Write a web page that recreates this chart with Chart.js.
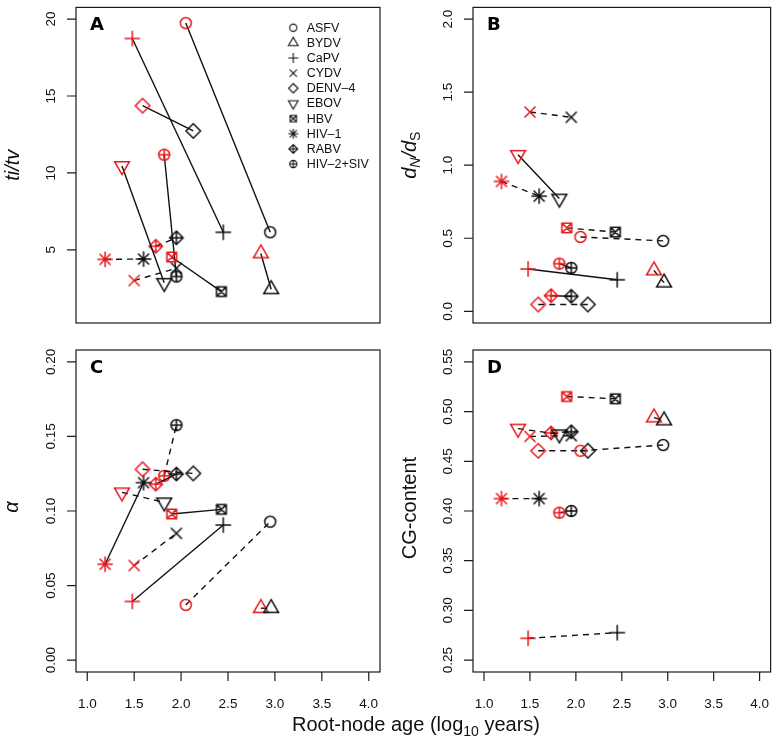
<!DOCTYPE html>
<html><head><meta charset="utf-8">
<script src="https://cdn.jsdelivr.net/npm/chart.js@4.4.1/dist/chart.umd.min.js"></script>
<style>
html,body{margin:0;padding:0;background:#fff;width:778px;height:743px;overflow:hidden}
canvas{position:absolute;left:0;top:0}
</style>
</head><body>
<canvas id="cA" width="778" height="743"></canvas>
<canvas id="cB" width="778" height="743"></canvas>
<canvas id="cC" width="778" height="743"></canvas>
<canvas id="cD" width="778" height="743"></canvas>
<script>
// ---------------- data ----------------
const VIRUSES = ['ASFV','BYDV','CaPV','CYDV','DENV–4','EBOV','HBV','HIV–1','RABV','HIV–2+SIV'];
// root-node age (log10 years): red = first estimate, black = second estimate
const AGE_RED   = [2.05, 2.85, 1.48, 1.50, 1.59, 1.37, 1.90, 1.19, 1.73, 1.82];
const AGE_BLACK = [2.95, 2.96, 2.45, 1.95, 2.13, 1.82, 2.43, 1.60, 1.95, 1.95];
// A: ti/tv
const TITV_RED   = [19.74, 4.76, 18.74, 3.00, 14.37, 10.45, 4.53, 4.38, 5.23, 11.18];
const TITV_BLACK = [6.14, 2.43, 6.14, 3.80, 12.73, 2.85, 2.28, 4.40, 5.78, 3.26];
const TITV_SIG   = [1, 1, 1, 0, 1, 1, 1, 0, 0, 1];
// B: dN/dS
const DNDS_RED   = [0.509, 0.279, 0.290, 1.364, 0.047, 1.071, 0.571, 0.889, 0.107, 0.326];
const DNDS_BLACK = [0.482, 0.196, 0.216, 1.328, 0.047, 0.772, 0.542, 0.788, 0.103, 0.297];
const DNDS_SIG   = [0, 0, 1, 0, 0, 1, 0, 0, 1, 1];
// C: alpha
const ALPHA_RED   = [0.0370, 0.0348, 0.0393, 0.0634, 0.1280, 0.1125, 0.0980, 0.0643, 0.1180, 0.1236];
const ALPHA_BLACK = [0.0928, 0.0348, 0.0906, 0.0850, 0.1252, 0.1058, 0.1011, 0.1190, 0.1248, 0.1576];
const ALPHA_SIG   = [0, 0, 1, 0, 0, 0, 1, 1, 1, 0];
// D: CG-content
const CG_RED   = [0.4606, 0.4940, 0.2719, 0.4750, 0.4606, 0.4829, 0.5152, 0.4125, 0.4785, 0.3983];
const CG_BLACK = [0.4664, 0.4910, 0.2776, 0.4758, 0.4606, 0.4772, 0.5129, 0.4125, 0.4798, 0.4000];
const CG_SIG   = [0, 0, 0, 0, 0, 0, 0, 0, 0, 0];
// ticks
const X_TICKS = [1.0, 1.5, 2.0, 2.5, 3.0, 3.5, 4.0];
const A_TICKS = [5, 10, 15, 20];
const B_TICKS = [0.0, 0.5, 1.0, 1.5, 2.0];
const C_TICKS = [0.00, 0.05, 0.10, 0.15, 0.20];
const D_TICKS = [0.25, 0.30, 0.35, 0.40, 0.45, 0.50, 0.55];

// ---------------- styles ----------------
const RED = 'rgb(232,24,28)';
const BLACK = '#111';
const SHAPES = ['circle','triUp','plus','cross','diamond','triDown','boxX','star','diamondPlus','circlePlus'];
const PT_R = 5.5, LEG_R = 3.6;
const FONT = '"Liberation Sans", Arial, Helvetica, sans-serif';

function drawShape(g, shape, x, y, r) {
  const line = (x1,y1,x2,y2)=>{ g.moveTo(x1,y1); g.lineTo(x2,y2); };
  const s2 = Math.SQRT2 * r;
  g.beginPath();
  switch (shape) {
    case 'circle': g.arc(x,y,r,0,2*Math.PI); break;
    case 'triUp': g.moveTo(x, y-1.5551*r); g.lineTo(x+1.3468*r, y+0.7776*r); g.lineTo(x-1.3468*r, y+0.7776*r); g.closePath(); break;
    case 'triDown': g.moveTo(x, y+1.5551*r); g.lineTo(x+1.3468*r, y-0.7776*r); g.lineTo(x-1.3468*r, y-0.7776*r); g.closePath(); break;
    case 'plus': line(x-s2,y,x+s2,y); line(x,y-s2,x,y+s2); break;
    case 'cross': line(x-r,y-r,x+r,y+r); line(x-r,y+r,x+r,y-r); break;
    case 'diamond': { const d=1.32*r; g.moveTo(x,y-d); g.lineTo(x+d,y); g.lineTo(x,y+d); g.lineTo(x-d,y); g.closePath(); break; }
    case 'boxX': { const h=0.886*r; g.rect(x-h,y-h,2*h,2*h); line(x-h,y-h,x+h,y+h); line(x-h,y+h,x+h,y-h); break; }
    case 'star': line(x-r,y-r,x+r,y+r); line(x-r,y+r,x+r,y-r); line(x-s2,y,x+s2,y); line(x,y-s2,x,y+s2); break;
    case 'diamondPlus': { const d=1.22*r; g.moveTo(x,y-d); g.lineTo(x+d,y); g.lineTo(x,y+d); g.lineTo(x-d,y); g.closePath(); line(x-d,y,x+d,y); line(x,y-d,x,y+d); break; }
    case 'circlePlus': g.arc(x,y,r,0,2*Math.PI); line(x-r,y,x+r,y); line(x,y-r,x,y+r); break;
  }
  g.stroke();
}
const markerCache = {};
function marker(shape, color, r, lw) {
  const key = shape+color+r+lw;
  if (markerCache[key]) return markerCache[key];
  const S = 2*Math.ceil(r*2+2);
  const c = document.createElement('canvas'); c.width = S; c.height = S;
  const g = c.getContext('2d');
  g.strokeStyle = color; g.lineWidth = lw; g.lineJoin = 'miter'; g.lineCap = 'butt';
  drawShape(g, shape, S/2, S/2, r);
  markerCache[key] = c;
  return c;
}

function fmt(v, d) { return d === 0 ? String(v) : v.toFixed(d); }

const PANELS = {
  cA: {letter:'A', box:{l:76,t:1,r:380,b:323}, ymin:0.24, ymax:20.76, yticks:A_TICKS, ydec:0, red:TITV_RED, black:TITV_BLACK, sig:TITV_SIG, title:'titv', legend:true, xlab:false},
  cB: {letter:'B', box:{l:473,t:1,r:777,b:323}, ymin:-0.08, ymax:2.08, yticks:B_TICKS, ydec:1, red:DNDS_RED, black:DNDS_BLACK, sig:DNDS_SIG, title:'dnds', legend:false, xlab:false},
  cC: {letter:'C', box:{l:76,t:350,r:380,b:672}, ymin:-0.008, ymax:0.208, yticks:C_TICKS, ydec:2, red:ALPHA_RED, black:ALPHA_BLACK, sig:ALPHA_SIG, title:'alpha', legend:false, xlab:true, xtitle:true},
  cD: {letter:'D', box:{l:473,t:350,r:777,b:672}, ymin:0.238, ymax:0.562, yticks:D_TICKS, ydec:2, red:CG_RED, black:CG_BLACK, sig:CG_SIG, title:'cg', legend:false, xlab:true}
};

function drawPieces(g, pieces, x, y) {
  let w = 0;
  pieces.forEach(p => { g.font = p.f; w += g.measureText(p.t).width; });
  let cx = x - w/2;
  g.textAlign = 'left';
  pieces.forEach(p => { g.font = p.f; g.fillText(p.t, cx, y + (p.dy||0)); cx += g.measureText(p.t).width; });
}

const decor = {
  id: 'decor',
  afterDraw(chart) {
    const P = PANELS[chart.canvas.id];
    const g = chart.ctx, a = chart.chartArea;
    const xs = chart.scales.x, ys = chart.scales.y;
    g.save();
    // frame
    g.strokeStyle = '#1a1a1a'; g.lineWidth = 1.2;
    g.strokeRect(a.left, a.top, a.right - a.left, a.bottom - a.top);
    // y ticks
    g.beginPath();
    P.yticks.forEach(v => { const y = ys.getPixelForValue(v); g.moveTo(a.left, y); g.lineTo(a.left - 9, y); });
    g.stroke();
    g.fillStyle = '#111';
    g.font = '13.5px ' + FONT; g.textAlign = 'center'; g.textBaseline = 'alphabetic';
    P.yticks.forEach(v => {
      const y = ys.getPixelForValue(v);
      g.save(); g.translate(a.left - 21.5, y); g.rotate(-Math.PI/2); g.fillText(fmt(v, P.ydec), 0, 0); g.restore();
    });
    // x ticks
    if (P.xlab) {
      g.beginPath();
      X_TICKS.forEach(v => { const x = xs.getPixelForValue(v); g.moveTo(x, a.bottom); g.lineTo(x, a.bottom + 9); });
      g.stroke();
      g.textAlign = 'center';
      X_TICKS.forEach(v => { g.fillText(fmt(v, 1), xs.getPixelForValue(v), 708); });
    }
    // y title
    g.save();
    const my = (a.top + a.bottom) / 2;
    g.textBaseline = 'alphabetic';
    if (P.title === 'titv') {
      g.translate(a.left - 57, my); g.rotate(-Math.PI/2);
      drawPieces(g, [{t:'ti/tv', f:'italic 20px ' + FONT}], 0, 0);
    } else if (P.title === 'dnds') {
      g.translate(a.left - 57, my - 10); g.rotate(-Math.PI/2);
      drawPieces(g, [{t:'d', f:'italic 20px ' + FONT}, {t:'N', f:'italic 14px ' + FONT, dy:4},
                     {t:'/', f:'italic 20px ' + FONT}, {t:'d', f:'italic 20px ' + FONT}, {t:'S', f:'14px ' + FONT, dy:4}], 0, 0);
    } else if (P.title === 'alpha') {
      g.translate(a.left - 58, my - 4); g.rotate(-Math.PI/2);
      drawPieces(g, [{t:'α', f:'italic 20px ' + FONT}], 0, 0);
    } else {
      g.translate(a.left - 57, my - 3); g.rotate(-Math.PI/2);
      drawPieces(g, [{t:'CG-content', f:'20px ' + FONT}], 0, 0);
    }
    g.restore();
    // x title
    if (P.xtitle) {
      g.fillStyle = '#111';
      drawPieces(g, [{t:'Root-node age (log', f:'20px ' + FONT}, {t:'10', f:'14px ' + FONT, dy:5}, {t:' years)', f:'20px ' + FONT}], 416, 731);
    }
    // panel letter
    g.font = 'bold 18px "DejaVu Sans", sans-serif'; g.textAlign = 'left'; g.fillStyle = '#000';
    g.fillText(P.letter, a.left + 14, a.top + 22.5);
    // legend
    if (P.legend) {
      g.font = '12.5px ' + FONT; g.textBaseline = 'middle'; g.fillStyle = '#111';
      VIRUSES.forEach((name, i) => {
        const cy = 27.7 + i * 15.15;
        const m = marker(SHAPES[i], BLACK, LEG_R, 1.1);
        g.drawImage(m, 293.3 - m.width/2, cy - m.height/2);
        g.fillText(name, 306.7, cy + 0.5);
      });
    }
    g.restore();
  }
};

Object.keys(PANELS).forEach(id => {
  const P = PANELS[id];
  const datasets = VIRUSES.map((name, i) => ({
    label: name,
    data: [{x: AGE_RED[i], y: P.red[i]}, {x: AGE_BLACK[i], y: P.black[i]}],
    showLine: true,
    borderColor: '#111',
    borderWidth: 1.4,
    borderDash: P.sig[i] ? [] : [6, 5],
    pointStyle: ctx => marker(SHAPES[i], ctx.dataIndex === 0 ? RED : BLACK, PT_R, 1.5),
    pointRadius: 6,
    pointHoverRadius: 6,
    tension: 0,
    fill: false
  }));
  new Chart(document.getElementById(id), {
    type: 'scatter',
    data: { datasets },
    options: {
      responsive: false, animation: false, devicePixelRatio: 1, events: [],
      layout: { padding: { left: P.box.l, top: P.box.t, right: 778 - P.box.r, bottom: 743 - P.box.b } },
      plugins: { legend: { display: false }, tooltip: { enabled: false } },
      scales: {
        x: { type: 'linear', display: false, min: 0.88, max: 4.12 },
        y: { type: 'linear', display: false, min: P.ymin, max: P.ymax }
      },
      clip: false
    },
    plugins: [decor]
  });
});
</script>
</body></html>
